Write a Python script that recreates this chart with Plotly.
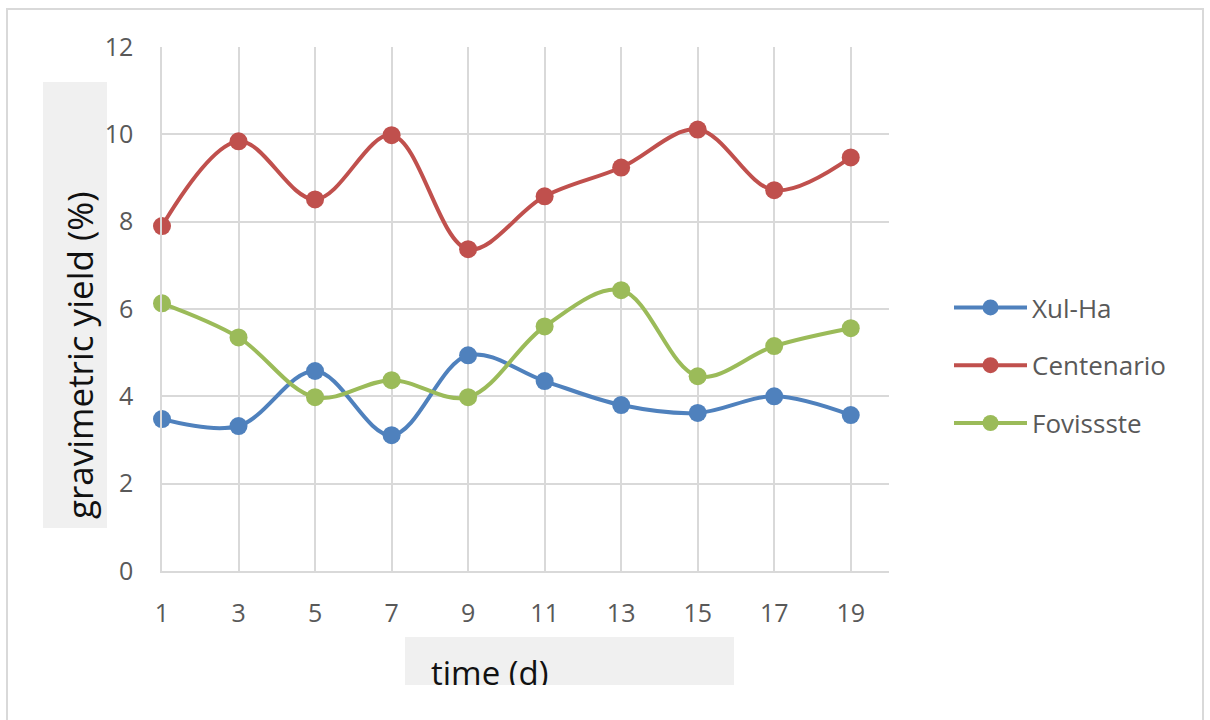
import plotly.graph_objects as go

W, H = 1210, 720

days = [1, 3, 5, 7, 9, 11, 13, 15, 17, 19]
xul_ha = [3.48, 3.32, 4.58, 3.11, 4.94, 4.35, 3.80, 3.62, 4.00, 3.57]
centenario = [7.90, 9.84, 8.51, 9.98, 7.37, 8.58, 9.24, 10.11, 8.72, 9.47]
fovissste = [6.13, 5.35, 3.98, 4.37, 3.98, 5.60, 6.43, 4.46, 5.15, 5.56]

series_names = ["Xul-Ha", "Centenario", "Fovissste"]
series_vals = [xul_ha, centenario, fovissste]
series_colors = ["#4F81BD", "#C0504D", "#9BBB59"]

y_ticks = [0, 2, 4, 6, 8, 10, 12]
y_title = "gravimetric yield (%)"
x_title = "time (d)"

FONT = "Open Sans"
GRID = "#D9D9D9"
TICKC = "#595959"
BOXC = "#F0F0F0"

def px(x):
    return x / W

def py(y):
    return (H - y) / H

fig = go.Figure()
for i, (name, vals, col) in enumerate(zip(series_names, series_vals, series_colors)):
    fig.add_trace(go.Scatter(
        x=days, y=vals, name=name, mode="lines+markers",
        line=dict(color=col, width=4, shape="spline", smoothing=1),
        marker=dict(color=col, size=18),
        legendgroup=name, cliponaxis=False,
    ))

# clipped x-axis title, drawn through its own (hidden) axes
fig.add_trace(go.Scatter(
    x=[26], y=[8.5], mode="text", text=[x_title], textposition="middle right",
    textfont=dict(family=FONT, size=33, color="#111111"),
    xaxis="x2", yaxis="y2", showlegend=False, cliponaxis=True, hoverinfo="skip",
))

fig.update_layout(
    width=W, height=H, autosize=False,
    margin=dict(l=0, r=0, t=0, b=0, pad=0, autoexpand=False),
    paper_bgcolor="white", plot_bgcolor="white",
    font=dict(family=FONT, color=TICKC),
    showlegend=True,
    xaxis=dict(
        domain=[px(162), px(889)], range=[1, 20], tickvals=days,
        showgrid=True, gridcolor=GRID, gridwidth=1.5,
        showline=True, linecolor=GRID, linewidth=1.5, zeroline=False,
        ticks="", tickfont=dict(family=FONT, size=25, color=TICKC),
        ticklabelstandoff=19, fixedrange=True, automargin=False,
    ),
    yaxis=dict(
        domain=[py(571), py(47)], range=[0, 12], tickvals=y_ticks,
        showgrid=True, gridcolor=GRID, gridwidth=1.5,
        showline=True, linecolor=GRID, linewidth=1.5, zeroline=False,
        ticks="", tickfont=dict(family=FONT, size=25, color=TICKC),
        ticklabelstandoff=22, fixedrange=True, automargin=False,
    ),
    xaxis2=dict(domain=[px(405), px(734)], range=[0, 329], visible=False,
                anchor="y2", fixedrange=True, automargin=False),
    yaxis2=dict(domain=[py(685), py(637)], range=[0, 48], visible=False,
                anchor="x2", fixedrange=True, automargin=False),
    legend=dict(
        x=px(949), y=py(284), xanchor="left", yanchor="top",
        font=dict(family=FONT, size=26, color=TICKC),
        traceorder="grouped", tracegroupgap=21,
        bgcolor="rgba(0,0,0,0)", itemwidth=73,
    ),
    shapes=[
        dict(type="rect", xref="paper", yref="paper",
             x0=px(7), x1=px(1203), y0=-0.1, y1=py(9),
             line=dict(color=GRID, width=2), fillcolor="rgba(0,0,0,0)", layer="below"),
        dict(type="rect", xref="paper", yref="paper",
             x0=px(43), x1=px(107), y0=py(528), y1=py(82),
             line=dict(width=0), fillcolor=BOXC, layer="below"),
        dict(type="rect", xref="paper", yref="paper",
             x0=px(405), x1=px(734), y0=py(685), y1=py(637),
             line=dict(width=0), fillcolor=BOXC, layer="below"),
    ],
    annotations=[
        dict(text=y_title, xref="paper", yref="paper", x=px(79), y=py(355),
             xanchor="center", yanchor="middle", textangle=-90, showarrow=False,
             font=dict(family=FONT, size=35, color="#111111")),
    ],
)

fig.write_html("out.html", config={"displayModeBar": False},
               post_script="document.body.style.margin='0';document.body.style.overflow='hidden';")
